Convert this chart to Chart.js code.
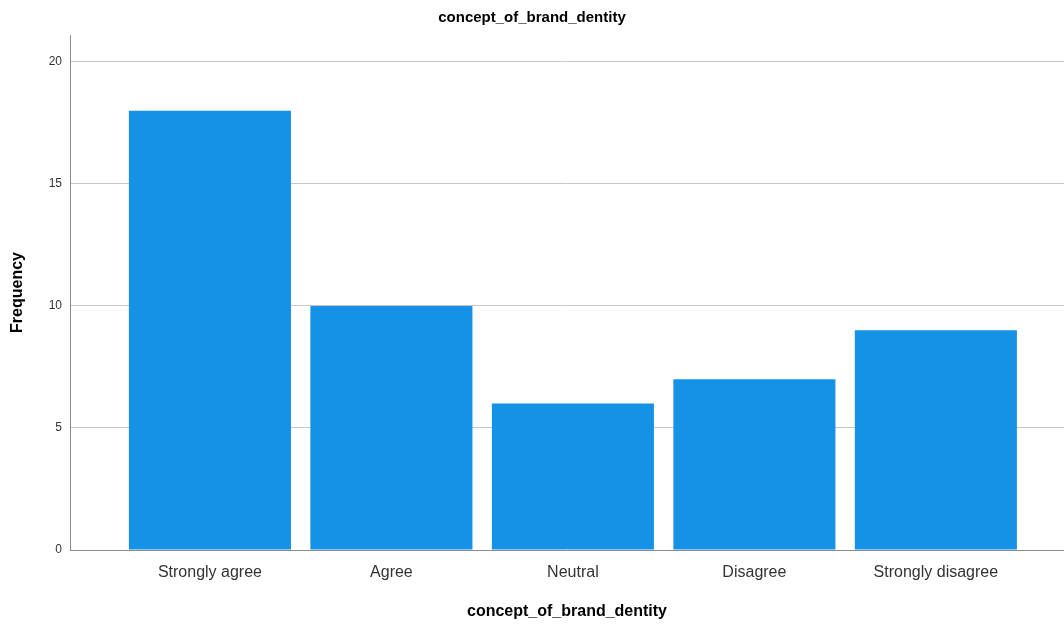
<!DOCTYPE html>
<html>
<head>
<meta charset="utf-8">
<script src="https://cdn.jsdelivr.net/npm/chart.js@4"></script>
<style>
    html, body { margin: 0; padding: 0; background: #ffffff; }
    #wrap { width: 1064px; height: 625px; position: relative; }
</style>
</head>
<body>
<div id="wrap"><canvas id="brandChart"></canvas></div>
<script>
// Datos del gráfico
const categories = ['Strongly agree', 'Agree', 'Neutral', 'Disagree', 'Strongly disagree'];
const frequencies = [18, 10, 6, 7, 9];
const yTicks = [0, 5, 10, 15, 20];
const chartTitle = 'concept_of_brand_dentity';
const yTitle = 'Frequency';

const FONT = "'Liberation Sans', Arial, sans-serif";

document.addEventListener('DOMContentLoaded', function() {
    const ctx = document.getElementById('brandChart').getContext('2d');
    new Chart(ctx, {
        type: 'bar',
        data: {
            datasets: [{
                data: frequencies.map((v, i) => ({ x: i, y: v })),
                backgroundColor: '#1591e5',
                borderWidth: 0,
                barPercentage: 0.893,
                categoryPercentage: 1
            }]
        },
        options: {
            responsive: true,
            maintainAspectRatio: false,
            animation: false,
            layout: { padding: 0 },
            plugins: {
                legend: { display: false },
                tooltip: { enabled: false },
                title: {
                    display: true,
                    text: chartTitle,
                    color: '#000',
                    font: { family: FONT, size: 15, weight: 'bold', lineHeight: 1.2 },
                    padding: { top: 9, bottom: 8 }
                }
            },
            scales: {
                x: {
                    type: 'linear',
                    offset: false,
                    min: -0.771,
                    max: 4.706,
                    afterBuildTicks: function(scale) {
                        scale.ticks = categories.map((c, i) => ({ value: i }));
                    },
                    afterFit: function(scale) {
                        scale.height = 75;
                    },
                    grid: { display: false, drawTicks: false, offset: false },
                    border: { display: true, color: '#8c8c8c', width: 1 },
                    ticks: {
                        autoSkip: false,
                        maxRotation: 0,
                        padding: 13,
                        color: '#333',
                        font: { family: FONT, size: 16 },
                        callback: function(value) {
                            return categories[value];
                        }
                    },
                    title: {
                        display: true,
                        text: chartTitle,
                        color: '#000',
                        font: { family: FONT, size: 16, weight: 'bold', lineHeight: 1.2 },
                        padding: { top: 4, bottom: 4 }
                    }
                },
                y: {
                    min: 0,
                    max: 21.1,
                    afterBuildTicks: function(scale) {
                        scale.ticks = yTicks.map(v => ({ value: v }));
                    },
                    afterFit: function(scale) {
                        scale.width = 70;
                    },
                    grid: { color: '#c8c8c8', lineWidth: 1, drawTicks: false },
                    border: { display: true, color: '#8c8c8c', width: 1 },
                    ticks: {
                        padding: 8,
                        color: '#333',
                        font: { family: FONT, size: 12 }
                    },
                    title: {
                        display: true,
                        text: yTitle,
                        color: '#000',
                        font: { family: FONT, size: 16, weight: 'bold', lineHeight: 1.2 },
                        padding: { top: 8, bottom: 0 }
                    }
                }
            }
        }
    });
});
</script>
</body>
</html>
